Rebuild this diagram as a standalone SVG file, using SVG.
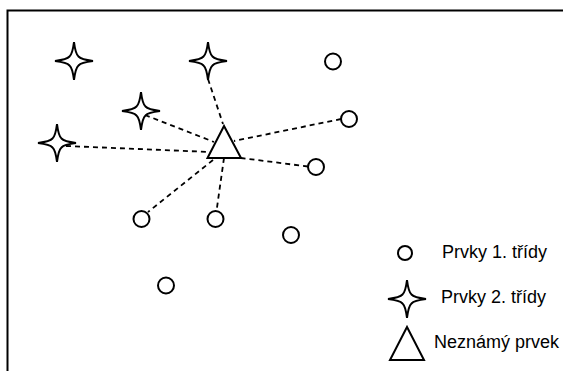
<svg xmlns="http://www.w3.org/2000/svg" width="563" height="371" viewBox="0 0 563 371">
  <style>
    .shape { fill: #fff; stroke: #000; stroke-width: 2; }
    .link { stroke: #000; stroke-width: 1.8; stroke-dasharray: 5 4; fill: none; }
    .frame { stroke: #000; stroke-width: 2; fill: none; }
    .label { font-family: "Liberation Sans", Arial, sans-serif; font-size: 18px; fill: #000; }
  </style>
  <defs>
    <!-- four-pointed star with slightly concave, tapering arms -->
    <path id="star" d="M0,-19 Q1.5,-7 4.5,-4.5 Q7,-1.5 19,0 Q7,1.5 4.5,4.5 Q1.5,7 0,19 Q-1.5,7 -4.5,4.5 Q-7,1.5 -19,0 Q-7,-1.5 -4.5,-4.5 Q-1.5,-7 0,-19 Z"/>
  </defs>

  <!-- frame: top and left edges only -->
  <path class="frame" d="M7.5,371 V10.5 H563"/>

  <!-- distance links from the unknown element -->
  <g id="links">
    <line class="link" x1="208" y1="79" x2="223" y2="124"/>
    <line class="link" x1="145" y1="115" x2="214" y2="142"/>
    <line class="link" x1="66" y1="146" x2="210" y2="152"/>
    <line class="link" x1="341" y1="119" x2="234" y2="141"/>
    <line class="link" x1="308" y1="166.5" x2="241" y2="158"/>
    <line class="link" x1="224" y1="158" x2="216.5" y2="211"/>
    <line class="link" x1="213" y1="160" x2="148" y2="212"/>
  </g>

  <!-- class 2 elements -->
  <g id="star1"><use href="#star" class="shape" x="74" y="61"/></g>
  <g id="star2"><use href="#star" class="shape" x="208" y="61"/></g>
  <g id="star3"><use href="#star" class="shape" x="141" y="111"/></g>
  <g id="star4"><use href="#star" class="shape" x="57" y="143"/></g>

  <!-- class 1 elements -->
  <g id="circle1"><circle class="shape" cx="333" cy="61.5" r="8"/></g>
  <g id="circle2"><circle class="shape" cx="349" cy="119" r="8"/></g>
  <g id="circle3"><circle class="shape" cx="316" cy="167" r="8"/></g>
  <g id="circle4"><circle class="shape" cx="215.5" cy="219" r="8"/></g>
  <g id="circle5"><circle class="shape" cx="141.5" cy="219" r="8"/></g>
  <g id="circle6"><circle class="shape" cx="291" cy="235" r="8"/></g>
  <g id="circle7"><circle class="shape" cx="166" cy="285.5" r="8"/></g>

  <!-- unknown element -->
  <g id="unknown"><polygon class="shape" points="224,126 207.5,158 241,158"/></g>

  <!-- legend -->
  <g id="legend-class1">
    <circle class="shape" cx="405" cy="253" r="7"/>
    <text class="label" x="442" y="258">Prvky 1. třídy</text>
  </g>
  <g id="legend-class2">
    <use href="#star" class="shape" x="407" y="299"/>
    <text class="label" x="441" y="303">Prvky 2. třídy</text>
  </g>
  <g id="legend-unknown">
    <polygon class="shape" points="407,327 390,360 424,360"/>
    <text class="label" x="434" y="348">Neznámý prvek</text>
  </g>
</svg>
